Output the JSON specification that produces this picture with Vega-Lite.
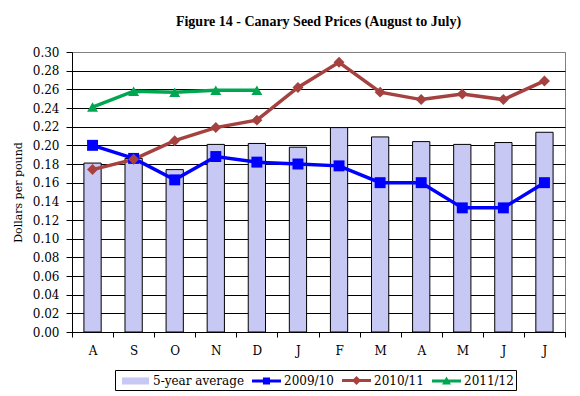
{
  "$schema": "https://vega.github.io/schema/vega-lite/v6.json",
  "autosize": {"type": "none"},
  "width": 493,
  "height": 280,
  "padding": {"left": 72, "top": 52, "right": 15, "bottom": 64},
  "background": "white",
  "config": {
    "font": "DejaVu Serif",
    "view": {"stroke": "#808080", "strokeWidth": 1},
    "axis": {"labelFont": "DejaVu Serif", "titleFont": "DejaVu Serif", "labelColor": "black", "titleColor": "black", "domainColor": "black", "tickColor": "black", "labelFontSize": 12, "titleFontSize": 11, "titleFontWeight": "normal"},
    "legend": {"labelFont": "DejaVu Serif"}
  },
  "title": {"text": "Figure 14 - Canary Seed Prices (August to July)", "font": "Times New Roman, Liberation Serif, serif", "fontSize": 14, "fontWeight": "bold", "color": "black", "anchor": "middle", "offset": 17},
  "data": {"values": [
    {"month": "Aug", "series": "5-year average", "value": 0.181},
    {"month": "Sep", "series": "5-year average", "value": 0.186},
    {"month": "Oct", "series": "5-year average", "value": 0.174},
    {"month": "Nov", "series": "5-year average", "value": 0.201},
    {"month": "Dec", "series": "5-year average", "value": 0.202},
    {"month": "Jan", "series": "5-year average", "value": 0.198},
    {"month": "Feb", "series": "5-year average", "value": 0.219},
    {"month": "Mar", "series": "5-year average", "value": 0.209},
    {"month": "Apr", "series": "5-year average", "value": 0.204},
    {"month": "May", "series": "5-year average", "value": 0.201},
    {"month": "Jun", "series": "5-year average", "value": 0.203},
    {"month": "Jul", "series": "5-year average", "value": 0.214},
    {"month": "Aug", "series": "2009/10", "value": 0.200},
    {"month": "Sep", "series": "2009/10", "value": 0.186},
    {"month": "Oct", "series": "2009/10", "value": 0.163},
    {"month": "Nov", "series": "2009/10", "value": 0.188},
    {"month": "Dec", "series": "2009/10", "value": 0.182},
    {"month": "Jan", "series": "2009/10", "value": 0.180},
    {"month": "Feb", "series": "2009/10", "value": 0.178},
    {"month": "Mar", "series": "2009/10", "value": 0.160},
    {"month": "Apr", "series": "2009/10", "value": 0.160},
    {"month": "May", "series": "2009/10", "value": 0.133},
    {"month": "Jun", "series": "2009/10", "value": 0.133},
    {"month": "Jul", "series": "2009/10", "value": 0.160},
    {"month": "Aug", "series": "2010/11", "value": 0.174},
    {"month": "Sep", "series": "2010/11", "value": 0.185},
    {"month": "Oct", "series": "2010/11", "value": 0.205},
    {"month": "Nov", "series": "2010/11", "value": 0.219},
    {"month": "Dec", "series": "2010/11", "value": 0.227},
    {"month": "Jan", "series": "2010/11", "value": 0.262},
    {"month": "Feb", "series": "2010/11", "value": 0.289},
    {"month": "Mar", "series": "2010/11", "value": 0.257},
    {"month": "Apr", "series": "2010/11", "value": 0.249},
    {"month": "May", "series": "2010/11", "value": 0.255},
    {"month": "Jun", "series": "2010/11", "value": 0.249},
    {"month": "Jul", "series": "2010/11", "value": 0.269},
    {"month": "Aug", "series": "2011/12", "value": 0.241},
    {"month": "Sep", "series": "2011/12", "value": 0.258},
    {"month": "Oct", "series": "2011/12", "value": 0.257},
    {"month": "Nov", "series": "2011/12", "value": 0.259},
    {"month": "Dec", "series": "2011/12", "value": 0.259}
  ]},
  "encoding": {
    "x": {"field": "month", "type": "ordinal", "sort": ["Aug","Sep","Oct","Nov","Dec","Jan","Feb","Mar","Apr","May","Jun","Jul"],
      "scale": {"paddingInner": 0, "paddingOuter": 0},
      "axis": {"title": null, "labelExpr": "datum.value ? substring(datum.value, 0, 1) : ''", "labelAngle": 0, "tickBand": "extent", "tickSize": 5, "labelPadding": 8, "labelFontSize": 12, "grid": false}},
    "y": {"field": "value", "type": "quantitative",
      "scale": {"domain": [0, 0.3], "nice": false, "zero": true},
      "axis": {"title": "Dollars per pound", "format": ".2f", "values": [0,0.02,0.04,0.06,0.08,0.1,0.12,0.14,0.16,0.18,0.2,0.22,0.24,0.26,0.28,0.3],
        "grid": true, "gridColor": {"condition": {"test": "datum.value >= 0.299", "value": "#808080"}, "value": "black"}, "gridOpacity": 1, "gridWidth": 1,
        "tickSize": 6, "labelPadding": 7, "titlePadding": 9}}
  },
  "layer": [
    {
      "transform": [{"filter": "datum.series === '5-year average'"}],
      "mark": {"type": "bar", "fill": "#C8C8F5", "stroke": "black", "strokeWidth": 1, "width": {"band": 0.42}}
    },
    {
      "transform": [{"filter": "datum.series !== '5-year average'"}],
      "mark": {"type": "line", "strokeWidth": 3.5},
      "encoding": {
        "detail": {"field": "series"},
        "color": {"condition": [{"test": "datum.series === '2009/10'", "value": "#0000FF"}, {"test": "datum.series === '2010/11'", "value": "#A5423F"}], "value": "#00A650"}
      }
    },
    {
      "transform": [{"filter": "datum.series !== '5-year average'"}],
      "mark": {"type": "point", "filled": true, "opacity": 1, "size": 120},
      "encoding": {
        "color": {"condition": [{"test": "datum.series === '2009/10'", "value": "#0000FF"}, {"test": "datum.series === '2010/11'", "value": "#A5423F"}], "value": "#00A650"},
        "shape": {"condition": [{"test": "datum.series === '2009/10'", "value": "square"}, {"test": "datum.series === '2010/11'", "value": "diamond"}], "value": "triangle-up"}
      }
    },
    {
      "mark": {"type": "point", "filled": true, "opacity": 0},
      "encoding": {
        "color": {"field": "series", "type": "nominal",
          "scale": {"domain": ["5-year average", "2009/10", "2010/11", "2011/12"], "range": ["#C8C8F5", "#0000FF", "#A5423F", "#00A650"]}},
        "shape": {"field": "series", "type": "nominal",
          "scale": {"domain": ["5-year average", "2009/10", "2010/11", "2011/12"],
            "range": ["M-1.8,-0.47H1.8V0.47H-1.8Z", "M-1.93,-0.2H1.93V0.2H-1.93Z M-0.47,-0.47H0.47V0.47H-0.47Z", "M-1.93,-0.2H1.93V0.2H-1.93Z M0,-0.6L0.6,0L0,0.6L-0.6,0Z", "M-1.93,-0.2H1.93V0.2H-1.93Z M0,-0.6L0.6,0.45L-0.6,0.45Z"]},
          "legend": {"title": null, "orient": "none", "legendX": 43, "legendY": 318, "direction": "horizontal",
            "symbolSize": 225, "symbolOpacity": 1, "symbolOffset": 10, "labelFontSize": 12, "labelColor": "black", "labelOffset": 9,
            "columnPadding": 4, "strokeColor": "black", "padding": 2, "fillColor": "white",
            "encode": {"symbols": {"update": {"stroke": {"signal": "datum.value === '5-year average' ? 'black' : 'transparent'"}, "strokeWidth": {"signal": "datum.value === '5-year average' ? 1 : 0"}, "opacity": {"value": 1}}}}}}
      }
    }
  ]
}
